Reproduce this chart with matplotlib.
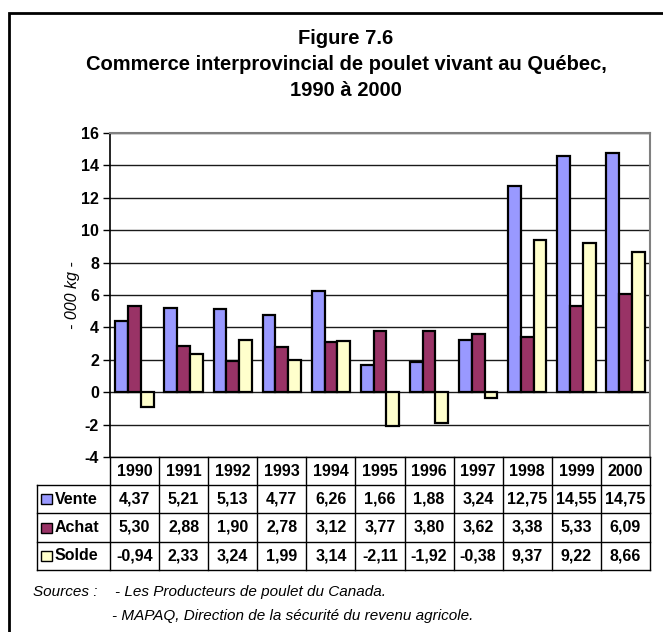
import numpy as np
import matplotlib
matplotlib.use("Agg")
import matplotlib.pyplot as plt
from matplotlib.lines import Line2D
from matplotlib.patches import Rectangle

plt.rcParams['font.family'] = ['Liberation Sans', 'DejaVu Sans']
plt.rcParams['axes.unicode_minus'] = False

annees = ['1990', '1991', '1992', '1993', '1994', '1995', '1996', '1997', '1998', '1999', '2000']
vente = [4.37, 5.21, 5.13, 4.77, 6.26, 1.66, 1.88, 3.24, 12.75, 14.55, 14.75]
achat = [5.30, 2.88, 1.90, 2.78, 3.12, 3.77, 3.80, 3.62, 3.38, 5.33, 6.09]
solde = [-0.94, 2.33, 3.24, 1.99, 3.14, -2.11, -1.92, -0.38, 9.37, 9.22, 8.66]
series = ['Vente', 'Achat', 'Solde']
couleurs = ['#9999FF', '#993366', '#FFFFCC']

W, H = 663, 632
fig = plt.figure(figsize=(W / 100, H / 100), dpi=100)


def fx(px):
    return px / W


def fy(py):
    return 1 - py / H


# cadre exterieur (coupe a droite et en bas)
fig.add_artist(Rectangle((fx(9), fy(700)), fx(700), fy(13) - fy(700),
                         fill=False, edgecolor='black', linewidth=2,
                         transform=fig.transFigure))

# titre
fig.text(fx(346), fy(39), "Figure 7.6", ha='center', va='center',
         fontsize=14.5, fontweight='bold')
fig.text(fx(346), fy(65), "Commerce interprovincial de poulet vivant au Québec,",
         ha='center', va='center', fontsize=14.5, fontweight='bold')
fig.text(fx(346), fy(90), "1990 à 2000", ha='center', va='center',
         fontsize=14.5, fontweight='bold')

# zone du graphique
x0, x1, ytop, ybot = 110, 650, 133, 457
ax = fig.add_axes([fx(x0), fy(ybot), fx(x1) - fx(x0), fy(ytop) - fy(ybot)])
x = np.arange(len(annees))
bw = 0.26
for k, (vals, c) in enumerate(zip([vente, achat, solde], couleurs)):
    ax.bar(x + (k - 1) * bw, vals, bw, color=c, edgecolor='black',
           linewidth=1.6, zorder=3)

ax.set_xlim(-0.5, len(annees) - 0.5)
ax.set_ylim(-4, 16)
ax.set_yticks(range(-4, 17, 2))
ax.set_xticks([])
ax.grid(axis='y', color='#1a1a1a', linewidth=1, zorder=0)
ax.tick_params(axis='y', length=5, width=1, pad=3, labelsize=11.5)
for lab in ax.get_yticklabels():
    lab.set_fontweight('bold')
ax.spines['left'].set_color('black')
ax.spines['left'].set_linewidth(1.2)
for s in ['top', 'right']:
    ax.spines[s].set_color('#808080')
    ax.spines[s].set_linewidth(1.5)
ax.spines['bottom'].set_color('black')
ax.spines['bottom'].set_linewidth(1)

fig.text(fx(72), fy((ytop + ybot) / 2), "- 000 kg -", rotation=90,
         ha='center', va='center', fontsize=11.5, fontstyle='italic')

# tableau de donnees
colw = (x1 - x0) / len(annees)
rows = [ybot, 485, 513, 542, 570]
tleft = 37


def hline(xa, xb, y):
    fig.add_artist(Line2D([fx(xa), fx(xb)], [fy(y), fy(y)], color='black',
                          linewidth=1, transform=fig.transFigure))


def vline(xp, ya, yb):
    fig.add_artist(Line2D([fx(xp), fx(xp)], [fy(ya), fy(yb)], color='black',
                          linewidth=1, transform=fig.transFigure))


for r in rows[1:]:
    hline(tleft, x1, r)
for i in range(len(annees) + 1):
    vline(x0 + i * colw, rows[0], rows[-1])
vline(tleft, rows[1], rows[-1])

for i, a in enumerate(annees):
    fig.text(fx(x0 + (i + 0.5) * colw), fy((rows[0] + rows[1]) / 2), a,
             ha='center', va='center', fontsize=11.5, fontweight='bold')

for j, (nom, vals, c) in enumerate(zip(series, [vente, achat, solde], couleurs)):
    yc = (rows[j + 1] + rows[j + 2]) / 2
    fig.add_artist(Rectangle((fx(41), fy(yc + 5)), fx(11), fy(yc - 5) - fy(yc + 5),
                             facecolor=c, edgecolor='black', linewidth=1,
                             transform=fig.transFigure))
    fig.text(fx(55), fy(yc), nom, ha='left', va='center', fontsize=11.5,
             fontweight='bold')
    for i, v in enumerate(vals):
        fig.text(fx(x0 + (i + 0.5) * colw), fy(yc), f"{v:.2f}".replace('.', ','),
                 ha='center', va='center', fontsize=11.5, fontweight='bold')

# sources
fig.text(fx(33), fy(592), "Sources :", ha='left', va='center', fontsize=11,
         fontstyle='italic')
fig.text(fx(115), fy(592), "- Les Producteurs de poulet du Canada.", ha='left',
         va='center', fontsize=11, fontstyle='italic')
fig.text(fx(112), fy(616), "- MAPAQ, Direction de la sécurité du revenu agricole.",
         ha='left', va='center', fontsize=11, fontstyle='italic')

fig.savefig("out.png", dpi=100)
